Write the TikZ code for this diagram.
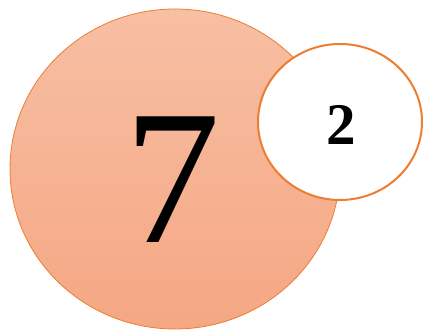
\documentclass[tikz,border=0pt]{standalone}
\usepackage{fontspec}
\setmainfont{Liberation Serif}
\usetikzlibrary{shapes.geometric}
\definecolor{accorange}{RGB}{237,125,49}
\definecolor{filltop}{RGB}{247,191,164}
\definecolor{fillbot}{RGB}{245,167,131}
\tikzset{
  bigball/.style={ellipse, draw=accorange, line width=0.8pt, top color=filltop, bottom color=fillbot, minimum width=330pt, minimum height=320pt, inner sep=0pt},
  smallball/.style={ellipse, draw=accorange, line width=2pt, fill=white, minimum width=164pt, minimum height=156pt, inner sep=0pt},
  numtext/.style={inner sep=0pt, text=black}
}
\begin{document}
\begin{tikzpicture}[x=1pt,y=1pt]
\useasboundingbox (0,0) rectangle (423,331);
\node[bigball] (big) at (175,162) {};
\node[smallball] (small) at (340,209) {};
\node[numtext] (seven) at (172,151) {\fontsize{192}{192}\selectfont 7};
\node[numtext] (two) at (341,206) {\fontsize{59}{59}\selectfont\bfseries 2};
\end{tikzpicture}
\end{document}
